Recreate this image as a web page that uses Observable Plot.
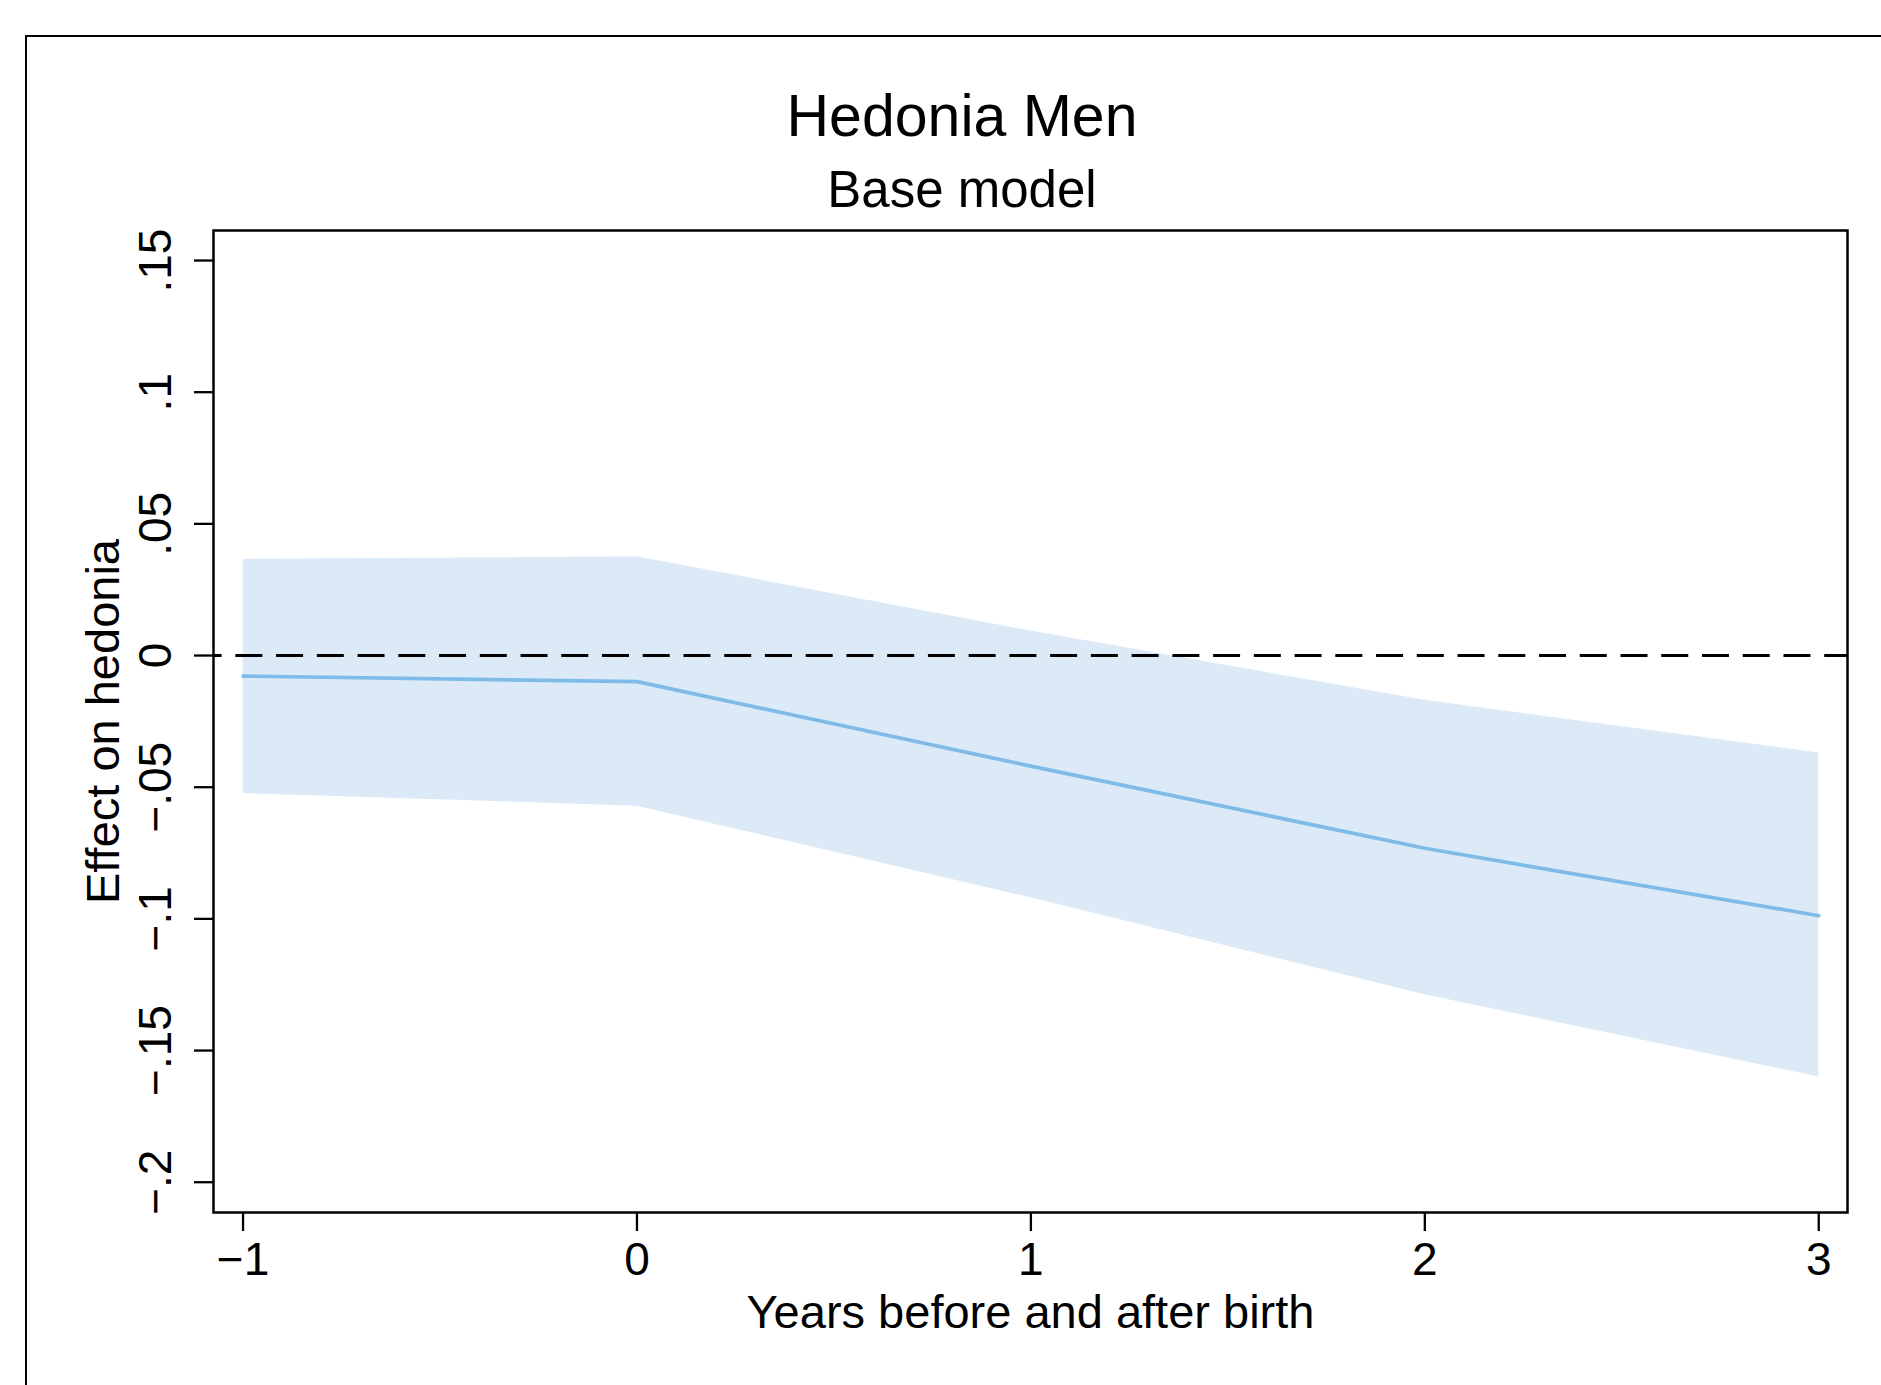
<!DOCTYPE html>
<html>
<head>
<meta charset="utf-8">
<script src="https://cdn.jsdelivr.net/npm/d3@7"></script>
<script src="https://cdn.jsdelivr.net/npm/@observablehq/plot@0.6"></script>
<style>
  html, body { margin: 0; padding: 0; background: #fff; overflow: hidden; }
  body { width: 1881px; height: 1385px; position: relative; font-family: "Liberation Sans", Arial, Helvetica, sans-serif; }
  #outer { position: absolute; left: 25px; top: 35px; width: 3000px; height: 3000px; border: 2.5px solid #000; box-sizing: border-box; z-index: 2; pointer-events: none; }
  #header { position: relative; height: 200px; }
  #title { position: absolute; left: 0; width: 1924px; top: 87px; text-align: center; font-size: 59px; line-height: 58px; color: #000; }
  #subtitle { position: absolute; left: 0; width: 1924px; top: 164px; text-align: center; font-size: 51px; line-height: 51px; color: #000; }
  #chart { position: relative; z-index: 1; }
  svg { display: block; background: transparent; }
</style>
</head>
<body>
<div id="outer"></div>
<div id="header">
  <div id="title">Hedonia Men</div>
  <div id="subtitle">Base model</div>
</div>
<div id="chart"></div>
<script>
// Years relative to birth
const years = [-1, 0, 1, 2, 3];
// Point estimates
const effect = [-0.0078, -0.0099, -0.0420, -0.0732, -0.0988];
// 95% CI bounds
const lower = [-0.0524, -0.0572, -0.0920, -0.1288, -0.1600];
const upper = [0.0365, 0.0375, 0.0093, -0.0170, -0.0370];
// Tick values
const xTicks = [-1, 0, 1, 2, 3];
const yTicks = [0.15, 0.1, 0.05, 0, -0.05, -0.1, -0.15, -0.2];

const titleText = "Hedonia Men";
const subtitleText = "Base model";
const xLabel = "Years before and after birth";
const yLabel = "Effect on hedonia";

const data = years.map((y, i) => ({year: y, b: effect[i], lo: lower[i], hi: upper[i]}));

const minus = "\u2212";
const fmtY = d => d === 0 ? "0" : (d < 0 ? minus : "") + String(Math.abs(d)).replace(/^0/, "");
const fmtX = d => (d < 0 ? minus : "") + String(Math.abs(d));

const font = "Liberation Sans, Arial, Helvetica, sans-serif";

const chart = Plot.plot({
  width: 1881,
  height: 1185,
  marginTop: 30,
  marginBottom: 173,
  marginLeft: 213,
  marginRight: 34,
  style: {fontFamily: font, color: "#000", background: "transparent"},
  x: {domain: [-1.075, 3.073], label: null},
  y: {domain: [-0.2115, 0.1614], label: null},
  marks: [
    Plot.areaY(data, {x: "year", y1: "lo", y2: "hi", fill: "#dbeaf6", fillOpacity: 1}),
    Plot.ruleY([0], {stroke: "#000", strokeWidth: 3, strokeDasharray: "27,13.74", strokeDashoffset: 18.4}),
    Plot.line(data, {x: "year", y: "b", stroke: "#7fbbe8", strokeWidth: 3.7}),
    Plot.axisX(xTicks, {tickSize: 19, tickPadding: 11, fontSize: 46, tickFormat: fmtX, label: null, strokeWidth: 2.3, stroke: "#000"}),
    Plot.axisY(yTicks, {tickSize: 19, tickFormat: () => "", label: null, strokeWidth: 2.3, stroke: "#000"}),
    Plot.text(yTicks, {y: d => d, text: fmtY, frameAnchor: "left", textAnchor: "middle", lineAnchor: "middle", rotate: -90, dx: -57, fontSize: 46, fill: "#000"}),
    Plot.text([xLabel], {frameAnchor: "bottom", textAnchor: "middle", lineAnchor: "middle", dy: 100, fontSize: 47, fill: "#000"}),
    Plot.text([yLabel], {frameAnchor: "left", textAnchor: "middle", lineAnchor: "middle", rotate: -90, dx: -110, fontSize: 47, fill: "#000"}),
    Plot.frame({stroke: "#000", strokeWidth: 2.5})
  ]
});
document.getElementById("chart").appendChild(chart);
</script>
</body>
</html>
